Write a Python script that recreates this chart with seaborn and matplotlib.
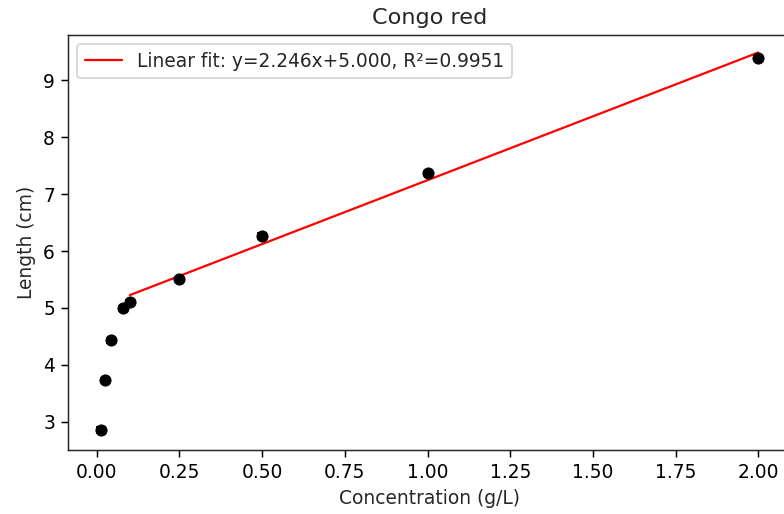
import numpy as np
import pandas as pd
import matplotlib
matplotlib.use("Agg")
import matplotlib.pyplot as plt
import seaborn as sns

# measured points
concentration = [0.012, 0.024, 0.042, 0.08, 0.1, 0.25, 0.5, 1.0, 2.0]
length = [2.86, 3.73, 4.43, 5.00, 5.10, 5.51, 6.27, 7.37, 9.40]
length_err = [0.04, 0.04, 0.04, 0.04, 0.04, 0.04, 0.04, 0.04, 0.04]

# linear fit parameters (as reported)
slope = 2.246
intercept = 5.000
r2 = 0.9951
fit_x = [0.1, 2.0]
xticks = [0, 0.25, 0.5, 0.75, 1.0, 1.25, 1.5, 1.75, 2.0]

df = pd.DataFrame({"Concentration (g/L)": concentration, "Length (cm)": length})
fit_df = pd.DataFrame({"x": fit_x, "y": [slope * v + intercept for v in fit_x]})

sns.set_style("ticks")
plt.rcParams["font.family"] = ["DejaVu Sans"]

DPI = 134
W, H = 784, 514
fig = plt.figure(figsize=(W / DPI, H / DPI), dpi=DPI)
# axes run past the right edge, as in the cropped reference
ax = fig.add_axes([68 / W, 1 - 450 / H, (791 - 68) / W, (450 - 35) / H])

ax.errorbar(df["Concentration (g/L)"], df["Length (cm)"], yerr=length_err,
            fmt="none", ecolor="black", capsize=2.5, lw=1.2)
sns.scatterplot(data=df, x="Concentration (g/L)", y="Length (cm)", ax=ax,
                color="black", s=36, edgecolor="black", linewidth=0.5, zorder=3)
sns.lineplot(data=fit_df, x="x", y="y", ax=ax, color="red", lw=1.2,
             label=f"Linear fit: y={slope:.3f}x+{intercept:.3f}, R\u00b2={r2:.4f}")

ax.set_title("Congo red", fontsize=12)
ax.set_xlabel("Concentration (g/L)", fontsize=10)
ax.set_ylabel("Length (cm)", fontsize=10)
ax.set_xticks(xticks)
ax.set_xticklabels([f"{v:.2f}" for v in xticks])
ax.set_xlim(-0.087, 2.099)
ax.set_ylim(2.5, 9.8)
ax.tick_params(labelsize=10, colors="black")
for s in ax.spines.values():
    s.set_linewidth(0.8)
ax.legend(loc="upper left", fontsize=10)

fig.savefig("out.png", dpi=DPI)
